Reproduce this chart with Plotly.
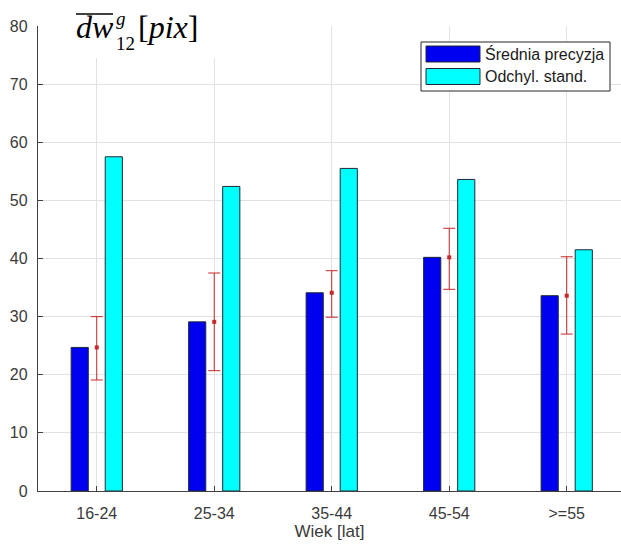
import plotly.graph_objects as go

# ---- data ----
categories = ["16-24", "25-34", "35-44", "45-54", ">=55"]
srednia = [24.7, 29.1, 34.1, 40.2, 33.6]          # Średnia precyzja
odchyl = [57.5, 52.4, 55.5, 53.6, 41.5]           # Odchyl. stand.
err_upper = [30.0, 37.5, 37.9, 45.2, 40.3]        # error bar top
err_lower = [19.1, 20.7, 29.9, 34.7, 27.0]        # error bar bottom
y_ticks = [0, 10, 20, 30, 40, 50, 60, 70, 80]
series_names = ["Średnia precyzja", "Odchyl. stand."]

W, H = 621, 545
ML, MR, MT, MB = 38, 0, 26, 54
PW, PH = W - ML - MR, H - MT - MB


def px(x):
    return (x - ML) / PW


def py(y):
    return (H - MB - y) / PH


BLUE = "#0000f0"
CYAN = "#00ffff"
EDGE = "#1e2a35"
RED = "#c42828"

fig = go.Figure()
fig.add_trace(go.Bar(
    x=categories, y=srednia, name=series_names[0],
    offset=-0.218, width=0.146,
    marker=dict(color=BLUE, line=dict(color=EDGE, width=1)),
    showlegend=False,
))
fig.add_trace(go.Bar(
    x=categories, y=odchyl, name=series_names[1],
    offset=0.072, width=0.146,
    marker=dict(color=CYAN, line=dict(color=EDGE, width=1)),
    showlegend=False,
))
fig.add_trace(go.Scatter(
    x=categories, y=srednia, mode="markers",
    marker=dict(symbol="square", size=4, color=RED),
    error_y=dict(
        type="data", symmetric=False,
        array=[u - m for u, m in zip(err_upper, srednia)],
        arrayminus=[m - l for m, l in zip(srednia, err_lower)],
        color=RED, thickness=1, width=6,
    ),
    showlegend=False,
))

shapes = []
annotations = []

# white box behind formula
shapes.append(dict(type="rect", xref="paper", yref="paper",
                   x0=px(55), x1=px(221), y0=py(58), y1=py(0),
                   fillcolor="white", line=dict(width=0), layer="above"))

# formula  \overline{dw}^g_{12}[pix]
FF = "Liberation Serif"
annotations += [
    dict(text="<i>dw</i>", x=px(74), y=py(27), xanchor="left", yanchor="middle",
         font=dict(family=FF, size=32, color="black")),
    dict(text="<i>g</i><br>12", x=px(114), y=py(31), xanchor="left", yanchor="middle",
         align="left", font=dict(family=FF, size=19, color="black")),
    dict(text="[<i>pix</i>]", x=px(136), y=py(27), xanchor="left", yanchor="middle",
         font=dict(family=FF, size=32, color="black")),
]
shapes.append(dict(type="line", xref="paper", yref="paper",
                   x0=px(76), x1=px(113), y0=py(14), y1=py(14),
                   line=dict(color="black", width=1.5), layer="above"))

# legend
LF = dict(family="Liberation Sans", size=16, color="#1a1a1a")
shapes.append(dict(type="rect", xref="paper", yref="paper",
                   x0=px(421), x1=px(610), y0=py(91), y1=py(42),
                   fillcolor="white", line=dict(color="#262626", width=1), layer="above"))
for i, (nm, col) in enumerate(zip(series_names, [BLUE, CYAN])):
    top = 46 + i * 22.5
    shapes.append(dict(type="rect", xref="paper", yref="paper",
                       x0=px(426), x1=px(480), y0=py(top + 16), y1=py(top),
                       fillcolor=col, line=dict(color=EDGE, width=1), layer="above"))
    annotations.append(dict(text=nm, x=px(483), y=py(top + 8), xanchor="left",
                            yanchor="middle", showarrow=False, font=LF))

for a in annotations:
    a.setdefault("showarrow", False)
    a["xref"] = "paper"
    a["yref"] = "paper"

TF = dict(family="Liberation Sans", size=16, color="#3a3a3a")
fig.update_layout(
    width=W, height=H,
    margin=dict(l=ML, r=MR, t=MT, b=MB, pad=0),
    paper_bgcolor="white", plot_bgcolor="white",
    barmode="overlay",
    shapes=shapes, annotations=annotations,
    xaxis=dict(
        type="category", range=[-0.5, 4.462],
        showgrid=True, gridcolor="#e2e2e2", gridwidth=1,
        showline=True, linecolor="#404040", linewidth=1.3,
        ticks="inside", ticklen=5, tickcolor="#404040",
        tickfont=TF, ticklabelstandoff=8,
        title=dict(text="Wiek [lat]", font=dict(family="Liberation Sans", size=17, color="#3a3a3a"),
                   standoff=2),
        zeroline=False,
    ),
    yaxis=dict(
        range=[0, 80], tickvals=y_ticks,
        showgrid=True, gridcolor="#e2e2e2", gridwidth=1,
        showline=True, linecolor="#404040", linewidth=1.3,
        ticks="inside", ticklen=5, tickcolor="#404040",
        tickfont=TF, ticklabelstandoff=6,
        zeroline=False,
    ),
)

fig.write_html("out.html")
